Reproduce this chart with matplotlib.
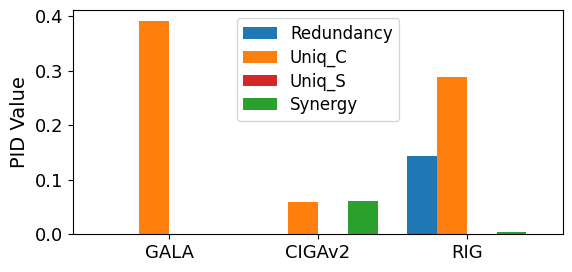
import matplotlib
matplotlib.use("Agg")
import matplotlib.pyplot as plt
import numpy as np

methods = ["GALA", "CIGAv2", "RIG"]
series_names = ["Redundancy", "Uniq_C", "Uniq_S", "Synergy"]
redundancy = [0.0, 0.0, 0.144]
uniq_c = [0.392, 0.058, 0.288]
uniq_s = [0.0, 0.0, 0.0]
synergy = [0.0, 0.061, 0.004]
colors = ["#1f77b4", "#ff7f0e", "#d62728", "#2ca02c"]

fig = plt.figure(figsize=(5.72, 2.72), dpi=100)
ax = fig.add_axes([0.128, 0.140, 0.856, 0.823])

x = np.arange(len(methods))
w = 0.2
for i, (name, vals) in enumerate(zip(series_names, [redundancy, uniq_c, uniq_s, synergy])):
    ax.bar(x + (i - 1.5) * w, vals, w, label=name, color=colors[i])

ax.set_xticks(x)
ax.set_xticklabels(methods, fontsize=13)
ax.tick_params(axis="y", labelsize=13)
ax.set_ylabel("PID Value", fontsize=14)
ax.set_xlim(-0.645, 2.645)
ax.set_yticks([0.0, 0.1, 0.2, 0.3, 0.4])
ax.legend(loc="upper center", fontsize=12, labelspacing=0.33)

fig.savefig("out.png", dpi=100)
